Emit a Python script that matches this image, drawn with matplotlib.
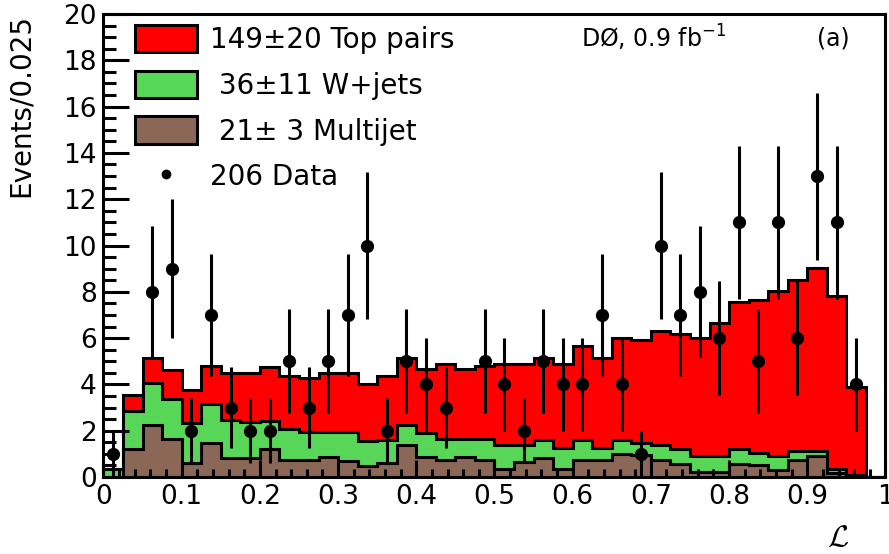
import numpy as np
import matplotlib
matplotlib.use("Agg")
import matplotlib.pyplot as plt
from matplotlib.patches import Patch
from matplotlib.lines import Line2D
from matplotlib.ticker import MultipleLocator, FuncFormatter

plt.rcParams['font.family'] = ['DejaVu Sans']

# 40 bins of 0.025 in the discriminant L
bin_width = 0.025
n_bins = 40

# contributions per bin
multijet = [0.0, 1.22, 2.26, 1.62, 0.61, 1.49, 0.83, 0.83, 1.22, 0.75,
            0.75, 0.86, 0.69, 0.46, 0.62, 1.37, 0.86, 0.75, 0.86, 0.75,
            0.36, 0.64, 0.83, 0.36, 0.72, 0.72, 0.98, 0.93, 0.72, 0.58,
            0.22, 0.22, 0.58, 0.50, 0.32, 0.75, 0.89, 0.17, 0.05, 0.0]
wjets = [0.35, 1.65, 1.80, 1.76, 1.72, 1.65, 1.65, 1.55, 1.20, 1.33,
         1.19, 1.08, 1.25, 1.10, 0.97, 0.89, 1.04, 0.91, 0.80, 0.91,
         1.01, 0.73, 0.76, 0.91, 0.87, 0.55, 0.61, 0.52, 0.65, 0.64,
         0.67, 0.67, 0.64, 0.54, 0.57, 0.37, 0.23, 0.19, 0.05, 0.0]
top_pairs = [0.0, 0.66, 1.08, 1.26, 1.44, 1.64, 2.01, 2.11, 2.33, 2.27,
             2.33, 2.55, 2.55, 2.44, 2.79, 2.89, 2.78, 3.24, 2.99, 3.12,
             3.53, 3.53, 3.56, 3.63, 4.05, 3.88, 4.43, 4.45, 4.94, 4.94,
             5.13, 5.76, 6.34, 6.62, 7.14, 7.40, 7.92, 7.44, 3.79, 0.0]
data = [1, 0, 8, 9, 2, 7, 3, 2, 2, 5,
        3, 5, 7, 10, 2, 5, 4, 3, 0, 5,
        4, 2, 5, 4, 4, 7, 4, 1, 10, 7,
        8, 6, 11, 5, 11, 6, 13, 11, 4, 0]

legend_labels = ['149\u00b120 Top pairs', ' 36\u00b111 W+jets',
                 ' 21\u00b1 3 Multijet', '206 Data']

col_top = '#ff0000'
col_w = '#58d658'
col_mj = '#8a6757'

edges = np.arange(n_bins + 1) * bin_width
centers = edges[:-1] + bin_width / 2
mj = np.array(multijet)
mj_w = mj + np.array(wjets)
total = mj_w + np.array(top_pairs)
d = np.array(data, dtype=float)

fig = plt.figure(figsize=(8.89, 5.54), dpi=100)
ax = fig.add_axes([0.1164, 0.139, 0.8796, 0.8357])

lw = 2.2
ax.stairs(total, edges, fill=True, facecolor=col_top, edgecolor='black', linewidth=lw)
ax.stairs(mj_w, edges, fill=True, facecolor=col_w, edgecolor='black', linewidth=lw)
ax.stairs(mj, edges, fill=True, facecolor=col_mj, edgecolor='black', linewidth=lw)

# data points with sqrt(N) errors, empty bins not drawn
m = d > 0
ax.errorbar(centers[m], d[m], yerr=np.sqrt(d[m]), fmt='o', color='black',
            markersize=8.5, elinewidth=2.2, capsize=0, zorder=5)

ax.set_xlim(0, 1)
ax.set_ylim(0, 20)
ax.xaxis.set_major_locator(MultipleLocator(0.1))
ax.xaxis.set_minor_locator(MultipleLocator(0.02))
ax.yaxis.set_major_locator(MultipleLocator(2))
ax.yaxis.set_minor_locator(MultipleLocator(0.5))
ax.xaxis.set_major_formatter(FuncFormatter(lambda v, p: f"{v:g}"))
ax.tick_params(which='both', direction='in', top=False, right=False,
               width=2.2, labelsize=19)
ax.tick_params(axis='x', which='major', length=12, pad=5)
ax.tick_params(axis='x', which='minor', length=6)
ax.tick_params(axis='y', which='major', length=19, pad=5)
ax.tick_params(axis='y', which='minor', length=9.5)
for s in ax.spines.values():
    s.set_linewidth(2.2)
    s.set_zorder(10)

ax.set_ylabel('Events/0.025', fontsize=20, loc='top')
ax.yaxis.set_label_coords(-0.0876, 1.0)
ax.set_xlabel(r'$\mathcal{L}$', fontsize=22, math_fontfamily='cm')
ax.xaxis.set_label_coords(0.94, -0.1)

ax.text(0.611, 0.948, 'D\u00d8, 0.9 fb$^{-1}$', transform=ax.transAxes,
        fontsize=17, va='center', ha='left')
ax.text(0.912, 0.948, '(a)', transform=ax.transAxes, fontsize=17,
        va='center', ha='left')

handles = [Patch(facecolor=col_top, edgecolor='black', linewidth=2.2),
           Patch(facecolor=col_w, edgecolor='black', linewidth=2.2),
           Patch(facecolor=col_mj, edgecolor='black', linewidth=2.2),
           Line2D([], [], marker='o', color='black', linestyle='none', markersize=6)]
ax.legend(handles, legend_labels, loc='upper left', bbox_to_anchor=(0.0403, 0.977),
          frameon=False, fontsize=20, borderpad=0, borderaxespad=0,
          handlelength=2.23, handleheight=1.15, handletextpad=0.47,
          labelspacing=0.6)

fig.savefig('out.png', dpi=100)
